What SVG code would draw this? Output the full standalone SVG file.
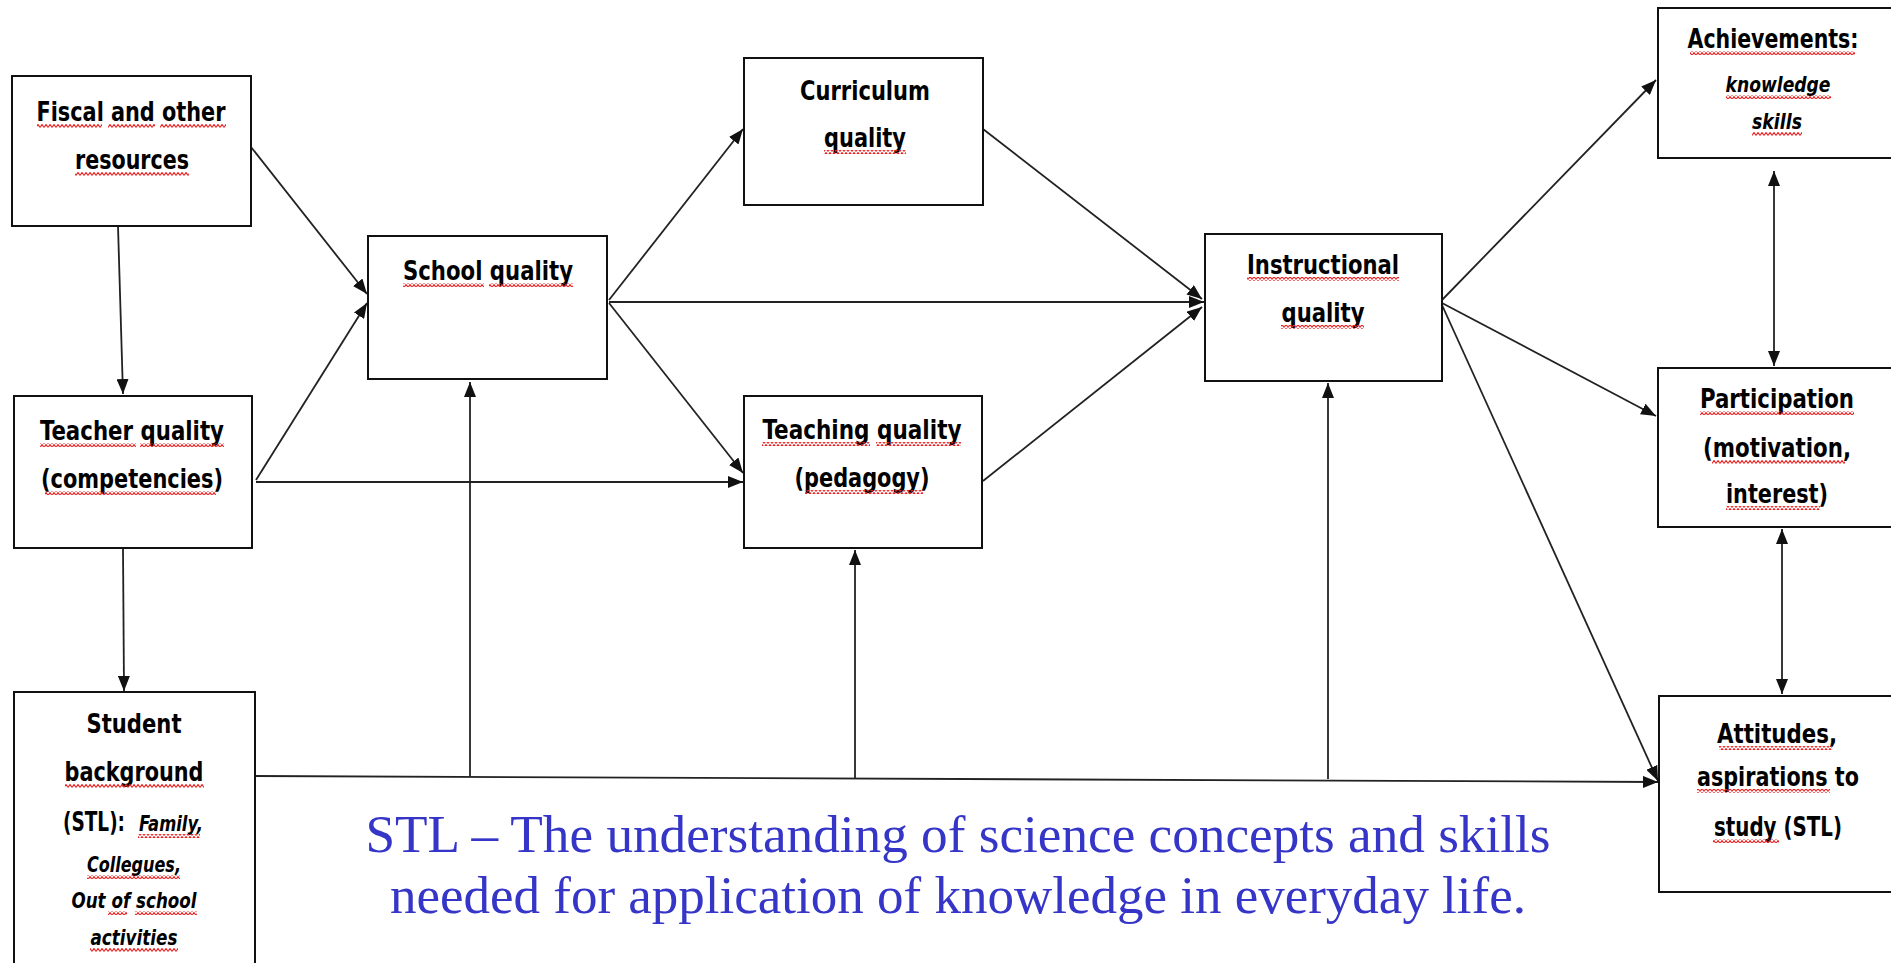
<svg xmlns="http://www.w3.org/2000/svg" width="1891" height="963" viewBox="0 0 1891 963">
<style>
.box{fill:#fff;stroke:#111;stroke-width:2}
.t{font-family:"DejaVu Sans Condensed","DejaVu Sans",sans-serif;font-stretch:condensed;font-weight:bold;font-size:26px;fill:#000;text-anchor:middle}
.ti{font-family:"DejaVu Sans Condensed","DejaVu Sans",sans-serif;font-stretch:condensed;font-weight:bold;font-style:italic;font-size:21px;fill:#000;text-anchor:middle}
.c{stroke:#222;stroke-width:1.8;fill:none;marker-end:url(#ah)}
.d{stroke:#222;stroke-width:1.8;fill:none;marker-end:url(#ah);marker-start:url(#ah)}
.sq{fill:url(#wave)}
.blue{font-family:"Liberation Serif","Times New Roman",serif;font-size:52px;fill:#3535c8;text-anchor:middle}
</style>
<defs>
<marker id="ah" markerUnits="userSpaceOnUse" markerWidth="16" markerHeight="12" refX="15" refY="6" orient="auto-start-reverse">
<path d="M0,0 L15,6 L0,12 z" fill="#111"/>
</marker>
<pattern id="wave" patternUnits="userSpaceOnUse" width="4" height="4">
<path d="M0,3.5 L2,0.5 L4,3.5" stroke="#ee2020" stroke-width="1.1" fill="none"/>
</pattern>
</defs>
<rect width="1891" height="963" fill="#fff"/>

<g id="connectors">
<path class="c" d="M118,226 L123,394"/>
<path class="c" d="M123,548 L124,691"/>
<path class="c" d="M251,147 L367,294"/>
<path class="c" d="M256,480 L367,303"/>
<path class="c" d="M256,482 L743,482"/>
<path class="c" d="M609,300 L743,129"/>
<path class="c" d="M609,302 L1204,302"/>
<path class="c" d="M609,303 L743,473"/>
<path class="c" d="M983,129 L1202,299"/>
<path class="c" d="M983,481 L1202,307"/>
<path class="c" d="M1442,300 L1656,80"/>
<path class="c" d="M1442,303 L1656,416"/>
<path class="c" d="M1442,305 L1658,781"/>
<path class="c" d="M254,776 L1658,782"/>
<path class="c" d="M470,777 L470,382"/>
<path class="c" d="M855,778 L855,550"/>
<path class="c" d="M1328,779 L1328,383"/>
<path class="d" d="M1774,171 L1774,366"/>
<path class="d" d="M1782,529 L1782,694"/>
</g>

<g id="fiscal">
<rect class="box" x="12" y="76" width="239" height="150"/>
<text class="t" x="131" y="121" textLength="189" lengthAdjust="spacingAndGlyphs">Fiscal and other</text>
<text class="t" x="132" y="169" textLength="114" lengthAdjust="spacingAndGlyphs">resources</text>
<rect class="sq" x="37" y="124" width="65" height="4"/>
<rect class="sq" x="108" y="124" width="47" height="4"/>
<rect class="sq" x="160" y="124" width="66" height="4"/>
<rect class="sq" x="75" y="172" width="114" height="4"/>
</g>

<g id="teacher">
<rect class="box" x="14" y="396" width="238" height="152"/>
<text class="t" x="132" y="440" textLength="184" lengthAdjust="spacingAndGlyphs">Teacher quality</text>
<text class="t" x="132" y="488" textLength="182" lengthAdjust="spacingAndGlyphs">(competencies)</text>
<rect class="sq" x="40" y="443" width="96" height="4"/>
<rect class="sq" x="140" y="443" width="84" height="4"/>
<rect class="sq" x="45" y="491" width="171" height="4"/>
</g>

<g id="student">
<rect class="box" x="14" y="692" width="241" height="290"/>
<text class="t" x="134" y="733" textLength="95" lengthAdjust="spacingAndGlyphs">Student</text>
<text class="t" x="134" y="781" textLength="139" lengthAdjust="spacingAndGlyphs">background</text>
<text class="t" x="94" y="831" textLength="62" lengthAdjust="spacingAndGlyphs">(STL):</text>
<text class="ti" x="171" y="831" textLength="64" lengthAdjust="spacingAndGlyphs">Family,</text>
<text class="ti" x="134" y="872" textLength="94" lengthAdjust="spacingAndGlyphs">Collegues,</text>
<text class="ti" x="134" y="908" textLength="125" lengthAdjust="spacingAndGlyphs">Out of school</text>
<text class="ti" x="134" y="945" textLength="87" lengthAdjust="spacingAndGlyphs">activities</text>
<rect class="sq" x="65" y="784" width="139" height="4"/>
<rect class="sq" x="138" y="834" width="62" height="4"/>
<rect class="sq" x="87" y="875" width="93" height="4"/>
<rect class="sq" x="108" y="911" width="19" height="4"/>
<rect class="sq" x="135" y="911" width="62" height="4"/>
<rect class="sq" x="90" y="948" width="88" height="4"/>
</g>

<g id="school">
<rect class="box" x="368" y="236" width="239" height="143"/>
<text class="t" x="488" y="280" textLength="170" lengthAdjust="spacingAndGlyphs">School quality</text>
<rect class="sq" x="403" y="283" width="81" height="4"/>
<rect class="sq" x="489" y="283" width="84" height="4"/>
</g>

<g id="curriculum">
<rect class="box" x="744" y="58" width="239" height="147"/>
<text class="t" x="865" y="100" textLength="130" lengthAdjust="spacingAndGlyphs">Curriculum</text>
<text class="t" x="865" y="147" textLength="82" lengthAdjust="spacingAndGlyphs">quality</text>
<rect class="sq" x="824" y="150" width="82" height="4"/>
</g>

<g id="teaching">
<rect class="box" x="744" y="396" width="238" height="152"/>
<text class="t" x="862" y="439" textLength="199" lengthAdjust="spacingAndGlyphs">Teaching quality</text>
<text class="t" x="862" y="487" textLength="135" lengthAdjust="spacingAndGlyphs">(pedagogy)</text>
<rect class="sq" x="762" y="442" width="108" height="4"/>
<rect class="sq" x="876" y="442" width="85" height="4"/>
<rect class="sq" x="805" y="490" width="118" height="4"/>
</g>

<g id="instructional">
<rect class="box" x="1205" y="234" width="237" height="147"/>
<text class="t" x="1323" y="274" textLength="152" lengthAdjust="spacingAndGlyphs">Instructional</text>
<text class="t" x="1323" y="322" textLength="83" lengthAdjust="spacingAndGlyphs">quality</text>
<rect class="sq" x="1247" y="277" width="152" height="4"/>
<rect class="sq" x="1281" y="325" width="83" height="4"/>
</g>

<g id="achievements">
<rect class="box" x="1658" y="8" width="250" height="150"/>
<text class="t" x="1773" y="48" textLength="171" lengthAdjust="spacingAndGlyphs">Achievements:</text>
<text class="ti" x="1778" y="92" textLength="105" lengthAdjust="spacingAndGlyphs">knowledge</text>
<text class="ti" x="1777" y="129" textLength="50" lengthAdjust="spacingAndGlyphs">skills</text>
<rect class="sq" x="1690" y="51" width="165" height="4"/>
<rect class="sq" x="1726" y="95" width="105" height="4"/>
<rect class="sq" x="1752" y="132" width="50" height="4"/>
</g>

<g id="participation">
<rect class="box" x="1658" y="368" width="250" height="159"/>
<text class="t" x="1777" y="408" textLength="154" lengthAdjust="spacingAndGlyphs">Participation</text>
<text class="t" x="1777" y="457" textLength="148" lengthAdjust="spacingAndGlyphs">(motivation,</text>
<text class="t" x="1777" y="503" textLength="102" lengthAdjust="spacingAndGlyphs">interest)</text>
<rect class="sq" x="1700" y="411" width="154" height="4"/>
<rect class="sq" x="1712" y="460" width="133" height="4"/>
<rect class="sq" x="1726" y="506" width="94" height="4"/>
</g>

<g id="attitudes">
<rect class="box" x="1659" y="696" width="250" height="196"/>
<text class="t" x="1777" y="743" textLength="120" lengthAdjust="spacingAndGlyphs">Attitudes,</text>
<text class="t" x="1778" y="786" textLength="162" lengthAdjust="spacingAndGlyphs">aspirations to</text>
<text class="t" x="1778" y="836" textLength="128" lengthAdjust="spacingAndGlyphs">study (STL)</text>
<rect class="sq" x="1719" y="746" width="113" height="4"/>
<rect class="sq" x="1697" y="789" width="133" height="4"/>
<rect class="sq" x="1713" y="839" width="66" height="4"/>
</g>

<g id="definition">
<text class="blue" x="958" y="852" textLength="1185" lengthAdjust="spacingAndGlyphs">STL – The understanding of science concepts and skills</text>
<text class="blue" x="958" y="913" textLength="1136" lengthAdjust="spacingAndGlyphs">needed for application of knowledge in everyday life.</text>
</g>
</svg>
